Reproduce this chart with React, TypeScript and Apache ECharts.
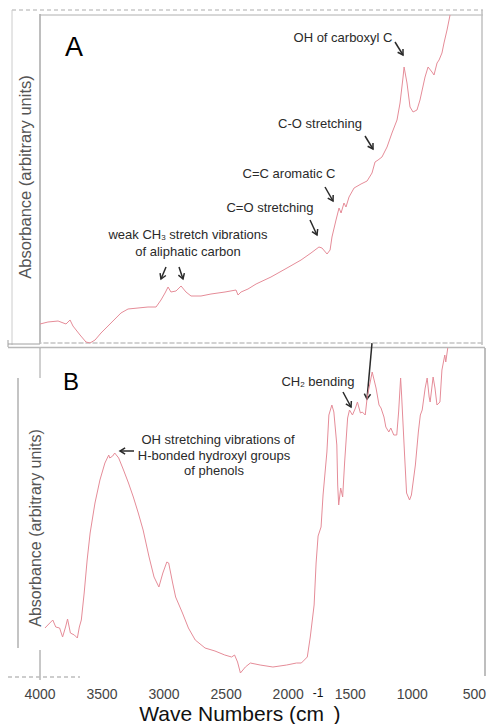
import React, { useEffect, useRef } from "react";
import * as echarts from "echarts";

// X axis ticks (wave numbers, cm-1)
const xTicks = [500, 1000, 1500, 2000, 2500, 3000, 3500, 4000];

// Panel A spectrum
const waveA = [4000, 3937, 3857, 3794, 3762, 3739, 3683, 3636, 3604, 3564, 3517, 3438, 3359, 3303, 3224, 3145, 3081, 3042, 3010, 2986, 2963, 2923, 2883, 2844, 2804, 2725, 2646, 2535, 2448, 2432, 2408, 2353, 2289, 2171, 2044, 1933, 1854, 1791, 1767, 1727, 1703, 1688, 1656, 1632, 1616, 1593, 1577, 1553, 1513, 1458, 1410, 1371, 1347, 1323, 1292, 1252, 1213, 1173, 1149, 1125, 1117, 1094, 1070, 1046, 1015, 991, 951, 927, 896, 880, 856, 840, 817, 801, 777, 753];
const absA = [19, 21, 22, 19, 23, 17, 8, 1, 0, 3, 10, 20, 30, 34, 35, 36, 36, 43, 50, 56, 51, 52, 57, 51, 47, 47, 49, 51, 53, 48, 51, 54, 59, 66, 75, 83, 90, 96, 95, 89, 93, 106, 123, 135, 130, 140, 136, 146, 155, 159, 162, 170, 181, 183, 186, 196, 210, 223, 240, 266, 276, 260, 236, 231, 233, 243, 266, 276, 271, 268, 280, 283, 290, 300, 313, 328];

// Panel B spectrum
const waveB = [3960, 3921, 3897, 3873, 3842, 3818, 3794, 3778, 3755, 3723, 3699, 3683, 3667, 3644, 3620, 3596, 3557, 3517, 3477, 3446, 3438, 3414, 3398, 3366, 3327, 3287, 3248, 3208, 3169, 3121, 3081, 3042, 3010, 2978, 2963, 2931, 2907, 2852, 2804, 2749, 2670, 2590, 2511, 2456, 2432, 2408, 2385, 2345, 2305, 2226, 2123, 2012, 1933, 1894, 1870, 1846, 1822, 1791, 1775, 1759, 1735, 1719, 1688, 1672, 1648, 1632, 1608, 1601, 1593, 1577, 1561, 1545, 1521, 1506, 1482, 1458, 1442, 1418, 1403, 1379, 1363, 1339, 1323, 1292, 1268, 1252, 1228, 1213, 1189, 1173, 1149, 1125, 1110, 1094, 1086, 1062, 1046, 1022, 1007, 975, 951, 935, 920, 896, 880, 864, 856, 832, 817, 801, 777, 761, 738, 730, 714];
const absB = [49, 54, 57, 50, 49, 40, 50, 58, 44, 42, 39, 50, 57, 84, 117, 144, 174, 197, 214, 222, 219, 221, 224, 219, 207, 194, 180, 164, 147, 120, 100, 90, 104, 115, 114, 94, 80, 64, 49, 37, 29, 26, 22, 20, 22, 15, 4, 10, 14, 12, 10, 12, 14, 14, 17, 20, 40, 72, 114, 141, 150, 182, 225, 262, 272, 265, 232, 192, 172, 189, 180, 215, 259, 267, 262, 269, 275, 264, 265, 262, 280, 295, 305, 289, 272, 269, 260, 250, 245, 249, 242, 242, 265, 299, 282, 222, 184, 177, 182, 212, 245, 262, 267, 289, 299, 280, 275, 300, 289, 272, 275, 307, 322, 315, 329];

const yLabel = "Absorbance (arbitrary units)";
const FONT = "'Liberation Sans', Arial, sans-serif";
const INK = "#2a2a2a";
const FRAME = "#b4b4b4";

function arrow(x1: number, y1: number, x2: number, y2: number, head = 6) {
  const a = Math.atan2(y2 - y1, x2 - x1);
  const p1 = [x2 - head * Math.cos(a - 0.55), y2 - head * Math.sin(a - 0.55)];
  const p2 = [x2 - head * Math.cos(a + 0.55), y2 - head * Math.sin(a + 0.55)];
  return {
    type: "group",
    silent: true,
    children: [
      { type: "line", shape: { x1, y1, x2, y2 }, style: { stroke: INK, lineWidth: 1.5 } },
      { type: "polyline", shape: { points: [p1, [x2, y2], p2] }, style: { stroke: INK, lineWidth: 1.5, fill: null } },
    ],
  };
}

function txt(text: string, x: number, y: number, size = 13, extra: any = {}) {
  return {
    type: "text",
    x,
    y,
    silent: true,
    style: { text, fontSize: size, fontFamily: FONT, fill: INK, align: "center", verticalAlign: "middle", ...extra },
  };
}

function richTxt(text: string, x: number, y: number, sub: "top" | "bottom") {
  return {
    type: "text",
    x,
    y,
    silent: true,
    style: {
      text,
      fontFamily: FONT,
      fill: INK,
      align: "center",
      verticalAlign: "middle",
      rich: {
        a: { fontSize: 13, fontFamily: FONT, fill: INK, lineHeight: 15 },
        s: { fontSize: 8, fontFamily: FONT, fill: INK, verticalAlign: sub },
      },
    },
  };
}

function ln(x1: number, y1: number, x2: number, y2: number, stroke = FRAME, w = 1, dash?: number[]) {
  return {
    type: "line",
    silent: true,
    shape: { x1, y1, x2, y2 },
    style: { stroke, lineWidth: w, lineDash: dash },
  };
}

export default function App() {
  const ref = useRef<HTMLDivElement>(null);
  useEffect(() => {
    document.body.style.margin = "0";
    const chart = echarts.init(ref.current!, undefined, { renderer: "svg" });
    const dataA = waveA.map((w, i) => [w, absA[i]]);
    const dataB = waveB.map((w, i) => [w, absB[i]]);
    const xBase = {
      type: "value" as const,
      min: xTicks[0],
      max: xTicks[xTicks.length - 1],
      interval: 500,
      inverse: true,
      splitLine: { show: false },
      axisTick: { show: false },
    };
    chart.setOption({
      animation: false,
      backgroundColor: "#ffffff",
      grid: [
        { left: 40, top: 15, width: 442, height: 328 },
        { left: 40, top: 348, width: 442, height: 329 },
      ],
      xAxis: [
        {
          ...xBase,
          gridIndex: 0,
          axisLabel: { show: false },
          axisLine: { show: true, lineStyle: { color: "#c4c4c4", width: 1.5, type: [4, 3] } },
        },
        {
          ...xBase,
          gridIndex: 1,
          axisLine: { show: false },
          axisLabel: {
            show: true,
            fontSize: 14,
            color: "#444",
            margin: 10,
            fontFamily: FONT,
            formatter: (v: number) => String(v),
          },
        },
      ],
      yAxis: [
        { gridIndex: 0, type: "value", min: 0, max: 328, show: false },
        { gridIndex: 1, type: "value", min: 0, max: 329, show: false },
      ],
      series: [
        {
          type: "line",
          xAxisIndex: 0,
          yAxisIndex: 0,
          data: dataA,
          symbol: "none",
          lineStyle: { color: "#e58c98", width: 1 },
        },
        {
          type: "line",
          xAxisIndex: 1,
          yAxisIndex: 1,
          data: dataB,
          symbol: "none",
          lineStyle: { color: "#e58c98", width: 1 },
        },
      ],
      graphic: [
        // Panel A frame
        ln(12, 10, 483, 10, "#c8c8c8", 1.5, [4, 3]),
        ln(12, 10, 12, 345, "#cccccc", 1),
        ln(40, 14, 40, 344, "#a8a8a8", 1.5),
        ln(40, 15, 483, 15, "#b0b0b0", 1),
        ln(482, 10, 482, 345, "#c0c0c0", 1.5),
        ln(8, 344, 40, 344, "#a0a0a0", 1),
        ln(8, 340, 8, 347, "#a0a0a0", 1),
        // Panel B frame
        ln(8, 347.5, 485, 347.5, "#b8b8b8", 1.5),
        ln(40, 348, 40, 378, "#a0a0a0", 1),
        ln(18, 378, 18, 648, "#b0b0b0", 1.5),
        ln(485, 348, 485, 676, "#a8a8a8", 1.5),
        ln(40, 650, 40, 680, "#909090", 1),
        ln(8, 677, 80, 677, "#bdbdbd", 1.5, [4, 3]),
        // Axis titles
        {
          type: "text",
          x: 25,
          y: 177,
          rotation: Math.PI / 2,
          silent: true,
          style: { text: yLabel, fontSize: 16.5, fontFamily: FONT, fill: "#555", align: "center", verticalAlign: "middle" },
        },
        {
          type: "text",
          x: 35,
          y: 528,
          rotation: Math.PI / 2,
          silent: true,
          style: { text: yLabel, fontSize: 16, fontFamily: FONT, fill: "#555", align: "center", verticalAlign: "middle" },
        },
        txt("Wave Numbers (cm", 324, 713, 21, { align: "right", fill: "#111" }),
        txt("-1", 318, 693, 12, { fill: "#111" }),
        txt(")", 337, 713, 21, { fill: "#111" }),
        // Panel letters
        txt("A", 74, 47, 27, { fill: "#000" }),
        txt("B", 71, 381, 24, { fill: "#000" }),
        // Panel A annotations
        txt("OH of carboxyl C", 343, 37),
        arrow(395, 42, 403, 55),
        txt("C-O stretching", 320, 123),
        arrow(365, 136, 373, 149),
        txt("C=C aromatic C", 289, 173),
        arrow(325, 187, 333, 201),
        txt("C=O stretching", 270, 207),
        arrow(310, 220, 317, 235),
        richTxt("{a|weak CH}{s|3}{a| stretch vibrations}", 188, 234, "bottom"),
        txt("of aliphatic carbon", 188, 251),
        arrow(166, 267, 161, 279),
        arrow(179, 267, 183, 279),
        // Panel B annotations
        richTxt("{a|CH}{s|2}{a| bending}", 318, 381, "bottom"),
        arrow(343, 392, 351, 407),
        arrow(372, 343, 367, 399),
        txt("OH stretching vibrations of", 218, 439),
        txt("H-bonded hydroxyl groups", 214, 455),
        txt("of phenols", 214, 470),
        arrow(134, 451, 120, 451),
      ],
    });
    return () => chart.dispose();
  }, []);
  return (
    <div
      ref={ref}
      style={{ position: "absolute", left: 0, top: 0, width: 489, height: 724 }}
    />
  );
}
